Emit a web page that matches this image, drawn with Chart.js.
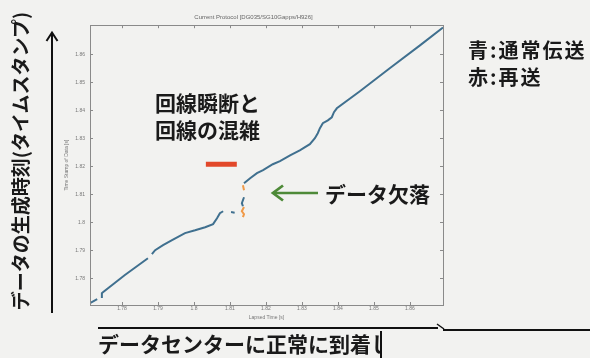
<!DOCTYPE html>
<html><head><meta charset="utf-8">
<script src="https://cdn.jsdelivr.net/npm/chart.js@4/dist/chart.umd.min.js"></script>
<style>
html,body{margin:0;padding:0}
body{width:590px;height:358px;overflow:hidden;position:relative;background:#f2f2f0;font-family:"Noto Sans CJK JP","Noto Sans",sans-serif;color:#1a1a1a}
#c{position:absolute;left:0;top:0}
.t{position:absolute;white-space:nowrap;font-weight:600}
svg{position:absolute;left:0;top:0}
</style></head><body>
<canvas id="c" width="590" height="358"></canvas>
<svg width="590" height="358">
  <line x1="52" y1="313" x2="52" y2="33" stroke="#111" stroke-width="2"/>
  <polyline points="46.5,41 52,32.5 57.5,41" fill="none" stroke="#111" stroke-width="2"/>
  <line x1="318" y1="193" x2="273" y2="193" stroke="#4e8a38" stroke-width="2.6"/>
  <polyline points="283,185.5 273,193 283,200.5" fill="none" stroke="#4e8a38" stroke-width="2.8"/>
  <line x1="98" y1="328" x2="438" y2="328" stroke="#111" stroke-width="2"/>
  <line x1="437" y1="324" x2="444" y2="329" stroke="#111" stroke-width="1.5"/>
  <line x1="443" y1="330" x2="590" y2="330" stroke="#111" stroke-width="2"/>
  <line x1="381" y1="331" x2="381" y2="358" stroke="#111" stroke-width="2"/>
</svg>
<div class="t" style="left:-140px;top:149px;width:320px;text-align:center;font-size:19px;line-height:24px;transform:rotate(-90deg)">データの生成時刻(タイムスタンプ)</div>
<div class="t" style="left:155px;top:89px;font-size:21px;line-height:27px">回線瞬断と<br>回線の混雑</div>
<div class="t" style="left:468px;top:36px;font-size:20px;line-height:27px;letter-spacing:2px">青:通常伝送<br>赤:再送</div>
<div class="t" style="left:325px;top:180px;font-size:21px;line-height:26px">データ欠落</div>
<div class="t" style="left:98px;top:330px;width:282px;overflow:hidden;font-size:21px;line-height:26px">データセンターに正常に到着し</div>
<script>
const xTicks = [1.78,1.79,1.8,1.81,1.82,1.83,1.84,1.85,1.86];
const xTickLabels = ['1.78','1.79','1.8','1.81','1.82','1.83','1.84','1.85','1.86'];
const yTicks = [1.78,1.79,1.8,1.81,1.82,1.83,1.84,1.85,1.86];
const yTickLabels = ['1.78','1.79','1.8','1.81','1.82','1.83','1.84','1.85','1.86'];

// normal transmission (blue); null = gap in the line
const blueTime  = [1.7711,1.7731,1.7738,1.7744,1.7744,1.7747,1.7808,1.7872,1.7878,1.7883,1.7892,1.7914,1.7939,1.7975,1.8003,1.8031,1.8053,1.8064,1.8072,1.8081,1.8092,1.8103,1.8113,1.8125,1.8139,1.8133,1.8136,1.8138,1.8139,1.8156,1.8175,1.8192,1.8219,1.8239,1.8267,1.8294,1.8322,1.8336,1.8344,1.8350,1.8358,1.8372,1.8383,1.8389,1.8397,1.8461,1.8544,1.8628,1.8692];
const blueStamp = [1.7711,1.7725,null,1.7729,1.7746,1.7750,1.7811,1.7871,null,1.7886,1.7900,1.7918,1.7936,1.7961,1.7971,1.7982,1.7993,1.8014,1.8032,1.8039,null,1.8036,1.8034,null,1.8089,1.8068,1.8057,null,1.8139,1.8157,1.8175,1.8186,1.8207,1.8218,1.8239,1.8257,1.8279,1.8300,1.8318,1.8336,1.8354,1.8364,1.8375,1.8393,1.8407,1.8468,1.8550,1.8632,1.8696];

// retransmission (orange)
const resendTime  = [1.8136,1.8139,1.8138,1.8139,1.8133,1.8139,1.8136];
const resendStamp = [1.8132,1.8114,null,1.8054,1.8039,1.8029,1.8018];

// annotation bar (red) marking outage / congestion
const barTime  = [1.8033,1.8119];
const barStamp = [1.8207,1.8207];

const pts = (xs, ys) => xs.map((x, i) => ({x: x, y: ys[i]}));

const frame = {
  id: 'frame',
  afterDraw(chart) {
    const {ctx, chartArea: a, scales} = chart;
    ctx.save();
    ctx.strokeStyle = '#8a8a8a';
    ctx.lineWidth = 1;
    ctx.strokeRect(Math.round(a.left) + 0.5, Math.round(a.top) + 0.5, Math.round(a.right - a.left), Math.round(a.bottom - a.top));
    ctx.beginPath();
    xTicks.forEach(v => {
      const p = Math.round(scales.x.getPixelForValue(v)) + 0.5;
      ctx.moveTo(p, a.top); ctx.lineTo(p, a.top + 3);
      ctx.moveTo(p, a.bottom); ctx.lineTo(p, a.bottom - 3);
    });
    yTicks.forEach(v => {
      const p = Math.round(scales.y.getPixelForValue(v)) + 0.5;
      ctx.moveTo(a.right, p); ctx.lineTo(a.right - 3, p);
      ctx.moveTo(a.left, p); ctx.lineTo(a.left + 3, p);
    });
    ctx.stroke();
    ctx.restore();
  }
};

new Chart(document.getElementById('c'), {
  type: 'line',
  data: {
    datasets: [
      {label: '通常伝送', data: pts(blueTime, blueStamp), borderColor: '#40708f', borderWidth: 2, pointRadius: 0, spanGaps: false, tension: 0},
      {label: '再送', data: pts(resendTime, resendStamp), borderColor: '#f09a48', borderWidth: 2, pointRadius: 0, spanGaps: false, tension: 0},
      {label: 'bar', data: pts(barTime, barStamp), borderColor: '#e2482a', borderWidth: 5, pointRadius: 0, tension: 0, borderCapStyle: 'butt'}
    ]
  },
  options: {
    responsive: false,
    animation: false,
    events: [],
    layout: {padding: {left: 64, right: 147, top: 0, bottom: 37}},
    plugins: {
      legend: {display: false},
      tooltip: {enabled: false},
      title: {display: true, text: 'Current Protocol [DG035/SG10Gapps/H926]', color: '#666', font: {size: 6, family: 'Liberation Sans', lineHeight: 1.2, weight: 'normal'}, padding: {top: 14, bottom: 4}}
    },
    scales: {
      x: {
        type: 'linear', min: 1.7711, max: 1.8692,
        afterFit: s => { s.height = 16; },
        afterBuildTicks: s => { s.ticks = xTicks.map(v => ({value: v})); },
        ticks: {callback: (v, i) => xTickLabels[i], color: '#777', font: {size: 5, family: 'Liberation Sans'}, padding: 1, maxRotation: 0, autoSkip: false},
        grid: {display: false, drawTicks: false},
        border: {display: false},
        title: {display: true, text: 'Lapsed Time [s]', color: '#777', font: {size: 5, family: 'Liberation Sans'}, padding: 0}
      },
      y: {
        type: 'linear', min: 1.7704, max: 1.8704,
        afterFit: s => { s.width = 26; },
        afterBuildTicks: s => { s.ticks = yTicks.map(v => ({value: v})); },
        ticks: {callback: (v, i) => yTickLabels[i], color: '#777', font: {size: 5, family: 'Liberation Sans'}, padding: 5, autoSkip: false},
        grid: {display: false, drawTicks: false},
        border: {display: false},
        title: {display: true, text: 'Time Stamp of Data [s]', color: '#777', font: {size: 5, family: 'Liberation Sans'}, padding: 0}
      }
    }
  },
  plugins: [frame]
});
</script>
</body></html>
